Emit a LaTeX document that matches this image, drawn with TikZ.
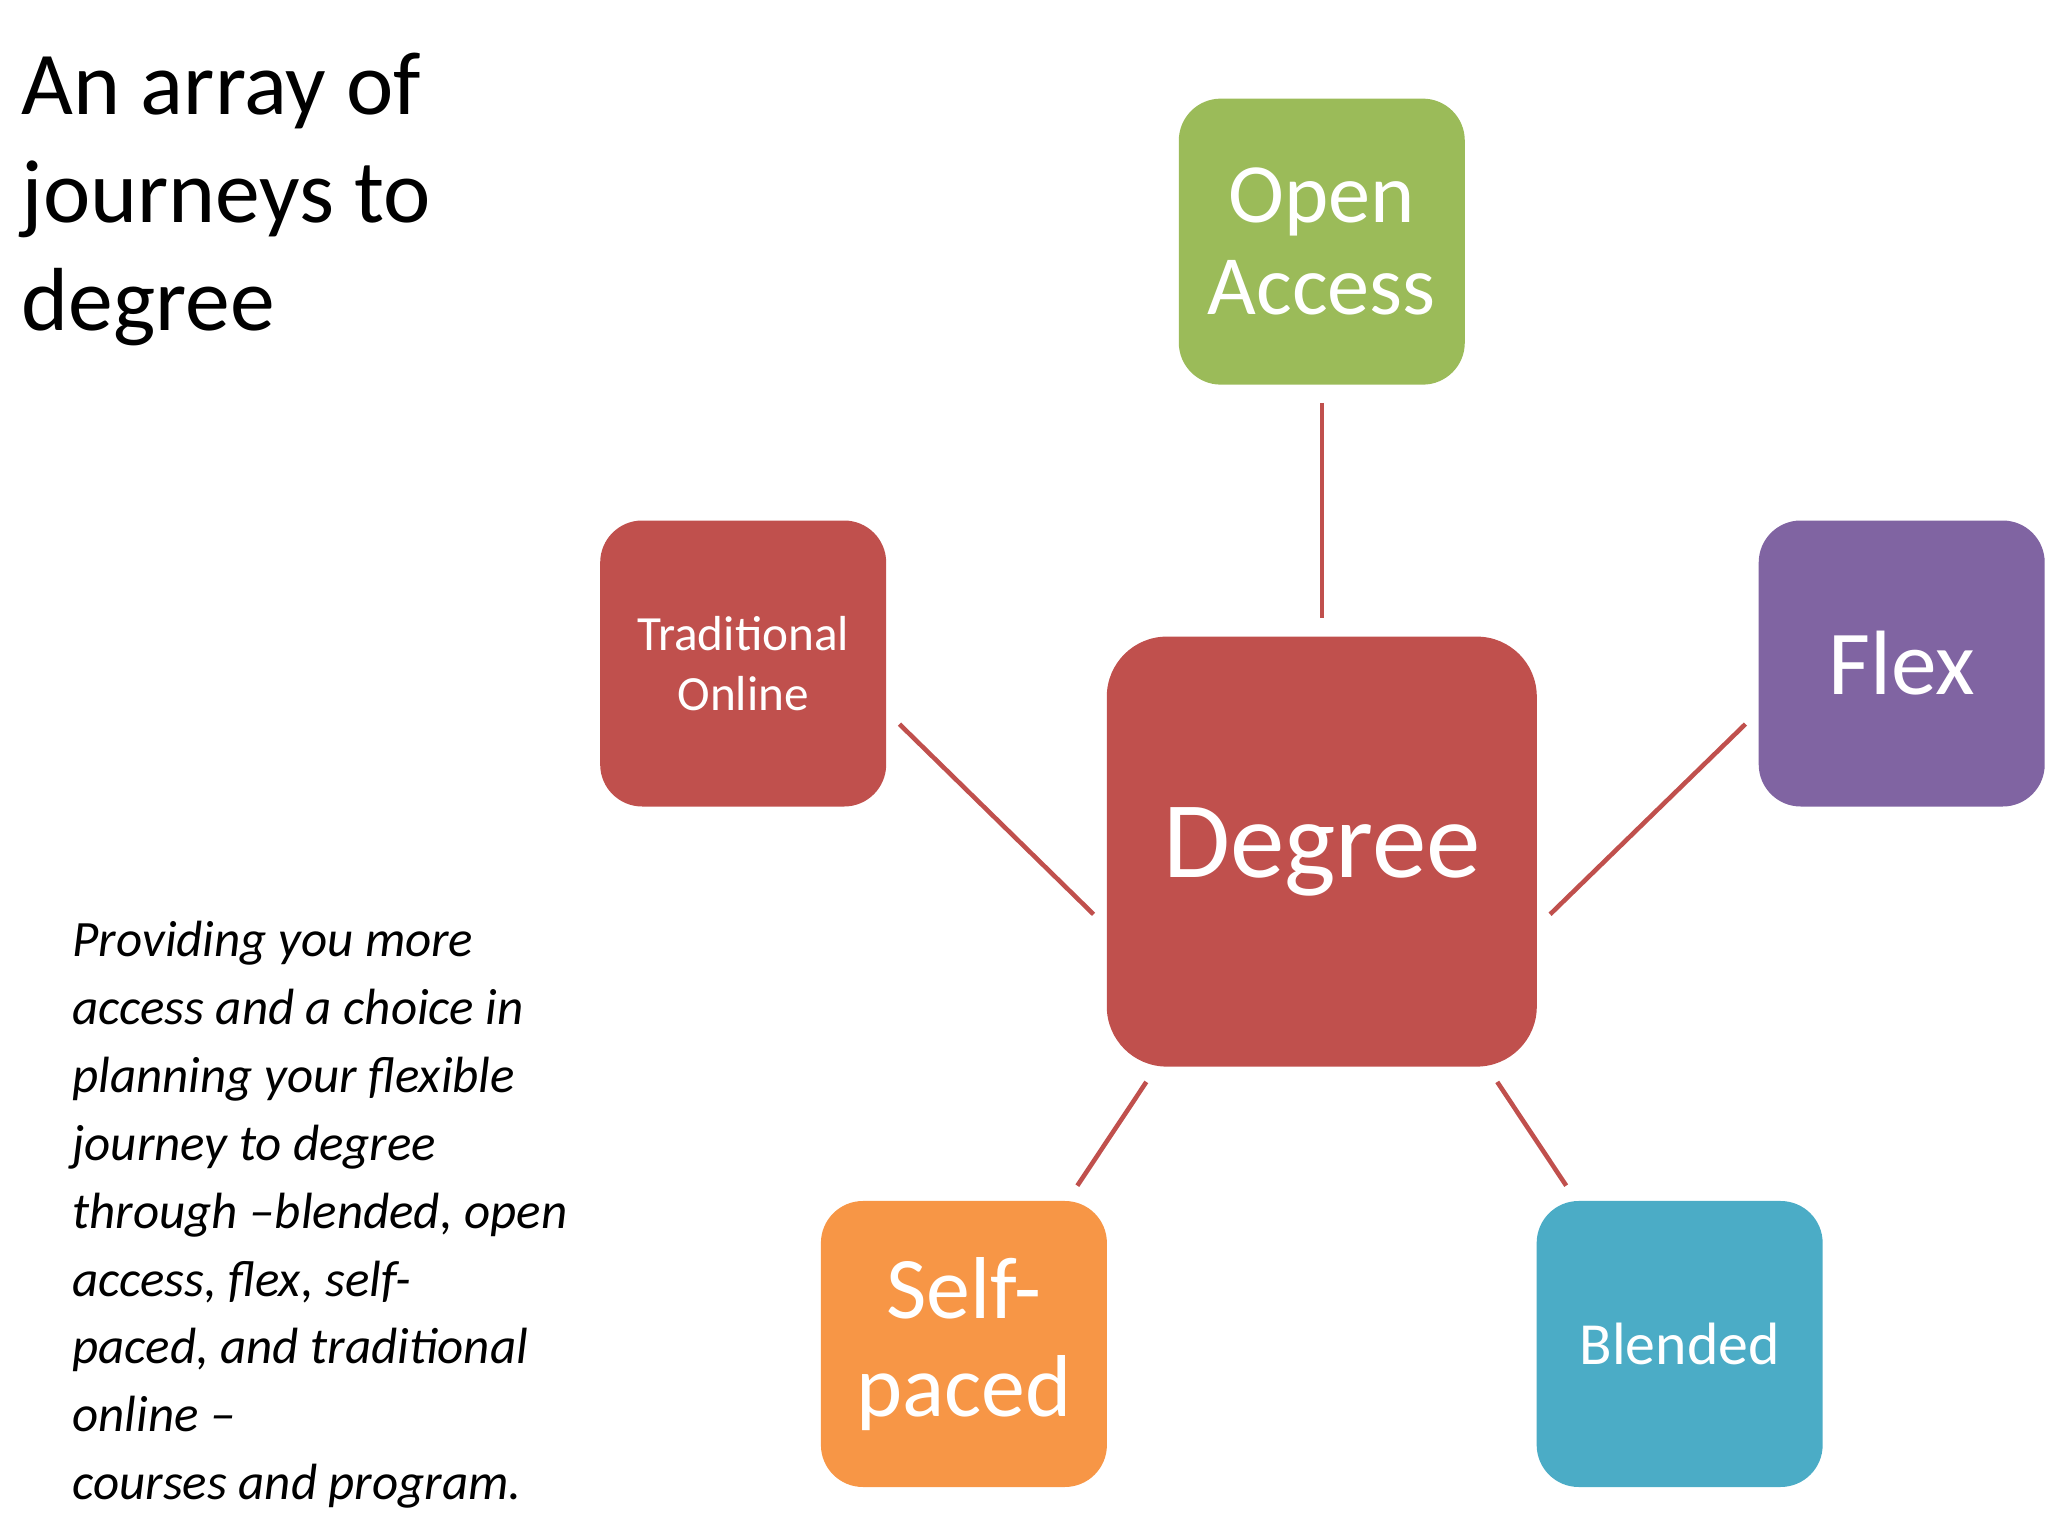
\documentclass[tikz,border=0pt]{standalone}
\usepackage{fontspec}
\setmainfont{Carlito}
\definecolor{cg}{HTML}{9BBB59}
\definecolor{cr}{HTML}{C0504D}
\definecolor{cp}{HTML}{8064A2}
\definecolor{co}{HTML}{F79646}
\definecolor{cb}{HTML}{4BACC6}
\begin{document}
\begin{tikzpicture}[x=0.01306cm,y=-0.01306cm,
 box/.style={rounded corners=0.42cm,minimum size=2.86cm,inner sep=2pt,text=white,align=center},
 link/.style={cr,line width=1.3pt,shorten <=5pt,shorten >=5pt}]
\useasboundingbox (0,0) rectangle (1568,1176);
\node[box,fill=cr,minimum size=4.3cm,rounded corners=0.6cm,font=\fontsize{31}{36}\selectfont] (deg) at (1012,652) {Degree};
\node[box,fill=cg,font=\fontsize{24}{26}\selectfont] (open) at (1012,185) {Open\\Access};
\node[box,fill=cr,font=\fontsize{14}{17}\selectfont] (trad) at (569,508) {Traditional\\Online};
\node[box,fill=cp,font=\fontsize{26}{30}\selectfont] (flex) at (1456,508) {Flex};
\node[box,fill=co,font=\fontsize{25}{28}\selectfont] (self) at (738,1029) {Self-\\paced};
\node[box,fill=cb,font=\fontsize{17}{20}\selectfont] (blend) at (1286,1029) {Blended};
\draw[link] (open) -- (deg);
\draw[link] (trad.east) ++(0,37) coordinate (t1);
\draw[link] (t1) -- ([yshift=-0.75cm]deg.west);
\draw[link] (flex.west) ++(0,37) coordinate (f1);
\draw[link] (f1) -- ([yshift=-0.75cm]deg.east);
\draw[link] ([xshift=-0.4cm]self.north east) -- ([xshift=0.5cm]deg.south west);
\draw[link] ([xshift=0.4cm]blend.north west) -- ([xshift=-0.5cm]deg.south east);
\node[anchor=north west,align=left,inner sep=0pt,font=\fontsize{25.5}{30.8}\selectfont] (title) at (16,40) {An array of\\journeys to\\degree};
\node[anchor=north west,align=left,inner sep=0pt,font=\fontsize{14.5}{19.3}\selectfont\itshape] (para) at (55,705) {Providing you more\\access and a choice in\\planning your flexible\\journey to degree\\through –blended, open\\access, flex, self-\\paced, and traditional\\online –\\courses and program.};
\end{tikzpicture}
\end{document}
